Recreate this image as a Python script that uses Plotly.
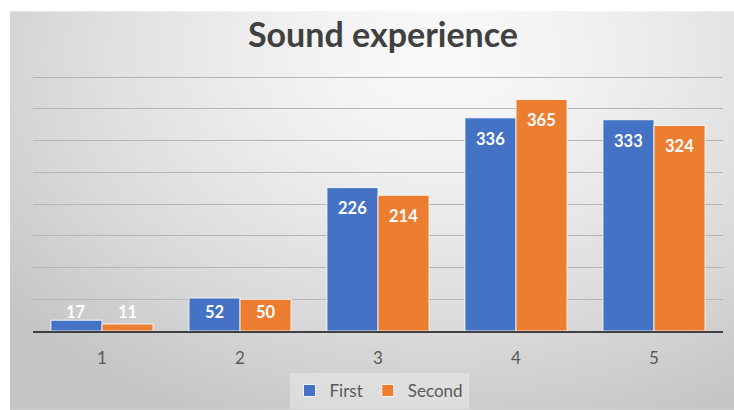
import base64
import struct
import zlib

import plotly.graph_objects as go

# ---- data ----
categories = ["1", "2", "3", "4", "5"]
first_values = [17, 52, 226, 336, 333]
second_values = [11, 50, 214, 365, 324]
series_names = ["First", "Second"]
series_colors = ["#4472C4", "#ED7D31"]

W, H = 734, 410
# plot-area box in pixels (y=400 sits at pixel 77, y=0 at pixel 331)
PL, PR, PB = 33, 723, 331
Y_GRID_TOP = 400
Y_TOP = 402
px_per_unit = (PB - 77) / Y_GRID_TOP
PT = 77 - (Y_TOP - Y_GRID_TOP) * px_per_unit


def radial_png(w, h, fig_w, fig_h, x0, y0):
    """Grayscale radial gradient (light near top-centre, darker to the edges)."""
    cx, cy, rx, ry = 440.0, 55.0, 560.0, 400.0
    hi, lo = 249.0, 197.0
    rows = []
    for j in range(h):
        py = y0 + (j + 0.5) * (fig_h - y0) / h
        row = bytearray([0])
        for i in range(w):
            px = x0 + (i + 0.5) * (fig_w - x0) / w
            d = (((px - cx) / rx) ** 2 + ((py - cy) / ry) ** 2) ** 0.5
            d = min(d, 1.0)
            row.append(int(round(hi - (hi - lo) * d ** 1.4)))
        rows.append(bytes(row))
    raw = b"".join(rows)

    def chunk(tag, data):
        c = struct.pack(">I", len(data)) + tag + data
        return c + struct.pack(">I", zlib.crc32(tag + data) & 0xFFFFFFFF)

    png = b"\x89PNG\r\n\x1a\n"
    png += chunk(b"IHDR", struct.pack(">IIBBBBB", w, h, 8, 0, 0, 0, 0))
    png += chunk(b"IDAT", zlib.compress(raw, 9))
    png += chunk(b"IEND", b"")
    return "data:image/png;base64," + base64.b64encode(png).decode()


BG_X0, BG_Y0 = 10, 11
bg_src = radial_png(181, 100, W, H, BG_X0, BG_Y0)

fig = go.Figure()
for name, vals, col in zip(series_names, [first_values, second_values], series_colors):
    fig.add_trace(go.Bar(
        x=categories, y=vals, name=name,
        marker=dict(color=col, line=dict(color="rgba(255,255,255,0.85)", width=1)),
        hoverinfo="x+y+name",
    ))

# value labels near the top of each bar (white, bold)
bar_w = (PR - PL) / len(categories) * (1 - 0.26) / 2
annotations = []
for k, vals in enumerate([first_values, second_values]):
    shift = (-0.5 if k == 0 else 0.5) * bar_w
    for idx, v in enumerate(vals):
        top_px = v * px_per_unit
        y_off = max(top_px - 21, 19)  # pixels above baseline for label centre
        annotations.append(dict(
            x=idx, y=0, xref="x", yref="y", text=str(v), showarrow=False,
            xshift=shift, yshift=y_off, yanchor="middle",
            font=dict(family="Lato", size=16.5, color="white", weight="bold"),
        ))

plot_h = PB - PT
fig.update_layout(
    width=W, height=H,
    margin=dict(l=PL, r=W - PR, t=PT, b=H - PB, pad=0, autoexpand=False),
    paper_bgcolor="white",
    plot_bgcolor="rgba(0,0,0,0)",
    bargap=0.26, bargroupgap=0,
    title=dict(
        text="<b>Sound experience</b>", x=(383 - PL) / (PR - PL), xref="paper", xanchor="center",
        y=1 - 35 / H, yref="container", yanchor="middle",
        font=dict(family="Lato", size=34, color="#404040"),
    ),
    xaxis=dict(
        type="category", showgrid=False, showline=True,
        linecolor="#404040", linewidth=2,
        ticks="outside", ticklen=0, ticklabelstandoff=11,
        tickfont=dict(family="Lato", size=17, color="#595959"),
        fixedrange=True,
    ),
    yaxis=dict(
        range=[0, Y_TOP], dtick=50, showgrid=True, gridcolor="#b5b5b5", gridwidth=1,
        showticklabels=False, zeroline=False, fixedrange=True,
    ),
    legend=dict(
        orientation="h", x=(379 - PL) / (PR - PL), xanchor="center",
        y=(PB - 391) / plot_h, yanchor="middle",
        font=dict(family="Lato", size=17, color="#595959"),
        bgcolor="rgba(240,240,240,0.45)", itemwidth=30,
    ),
    annotations=annotations,
    images=[dict(
        source=bg_src, xref="paper", yref="paper",
        x=(BG_X0 - PL) / (PR - PL), y=(PB - BG_Y0) / plot_h,
        sizex=(W - BG_X0) / (PR - PL), sizey=(H - BG_Y0) / plot_h,
        xanchor="left", yanchor="top", sizing="stretch", layer="below",
    )],
    showlegend=True,
)

fig.write_html("out.html")
